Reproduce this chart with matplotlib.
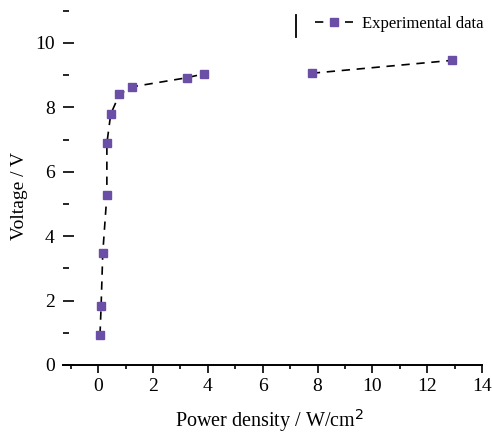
import matplotlib
matplotlib.use("Agg")
import matplotlib.pyplot as plt
from matplotlib.lines import Line2D
from matplotlib.ticker import MultipleLocator

# values
power_density = [0.07, 0.11, 0.17, 0.32, 0.32, 0.46, 0.78, 1.25, 3.23, 3.85, 7.79, 12.9]
voltage = [0.94, 1.83, 3.47, 5.28, 6.88, 7.79, 8.41, 8.64, 8.92, 9.04, 9.06, 9.46]
series_label = "Experimental data"
# the reference line breaks between 3.85 and 7.79 W/cm2
split_at = 10

plt.rcParams["font.family"] = ["Liberation Serif", "DejaVu Serif"]
plt.rcParams["font.size"] = 14

fig = plt.figure(figsize=(4.92, 4.34), dpi=100)
ax = fig.add_axes([0.128, 0.159, 0.852, 0.831])

style = dict(color="black", linestyle=(0, (5, 4)), linewidth=1.2, marker="s",
             markersize=6, markerfacecolor="#6b4ea6", markeredgecolor="#6b4ea6")
ax.plot(power_density[:split_at], voltage[:split_at], label=series_label, **style)
ax.plot(power_density[split_at:], voltage[split_at:], **style)

ax.set_xlim(-1.28, 14)
ax.set_ylim(0, 11.2)
ax.xaxis.set_major_locator(MultipleLocator(2))
ax.xaxis.set_minor_locator(MultipleLocator(1))
ax.yaxis.set_major_locator(MultipleLocator(2))
ax.yaxis.set_minor_locator(MultipleLocator(1))
ax.tick_params(axis="x", which="major", direction="out", length=6, width=1.2)
ax.tick_params(axis="x", which="minor", direction="out", length=3, width=1.2)
ax.tick_params(axis="y", which="major", direction="in", length=8, width=1.2, pad=6)
ax.tick_params(axis="y", which="minor", direction="in", length=4, width=1.2)

for s in ["top", "right", "left"]:
    ax.spines[s].set_visible(False)
ax.spines["bottom"].set_linewidth(1.4)

ax.set_xlabel("Power density / W/cm$^2$", fontsize=14.5)
ax.set_ylabel("Voltage / V")
ax.xaxis.set_label_coords(0.494, -0.116)
ax.yaxis.set_label_coords(-0.084, 0.469)

ax.legend(loc="upper right", frameon=False, handlelength=2.3, handletextpad=0.5,
          fontsize=12, bbox_to_anchor=(1.03, 1.0), borderaxespad=0.3)
fig.add_artist(Line2D([0.602, 0.602], [0.915, 0.965], color="black", linewidth=1.3))

fig.savefig("out.png", dpi=100)
